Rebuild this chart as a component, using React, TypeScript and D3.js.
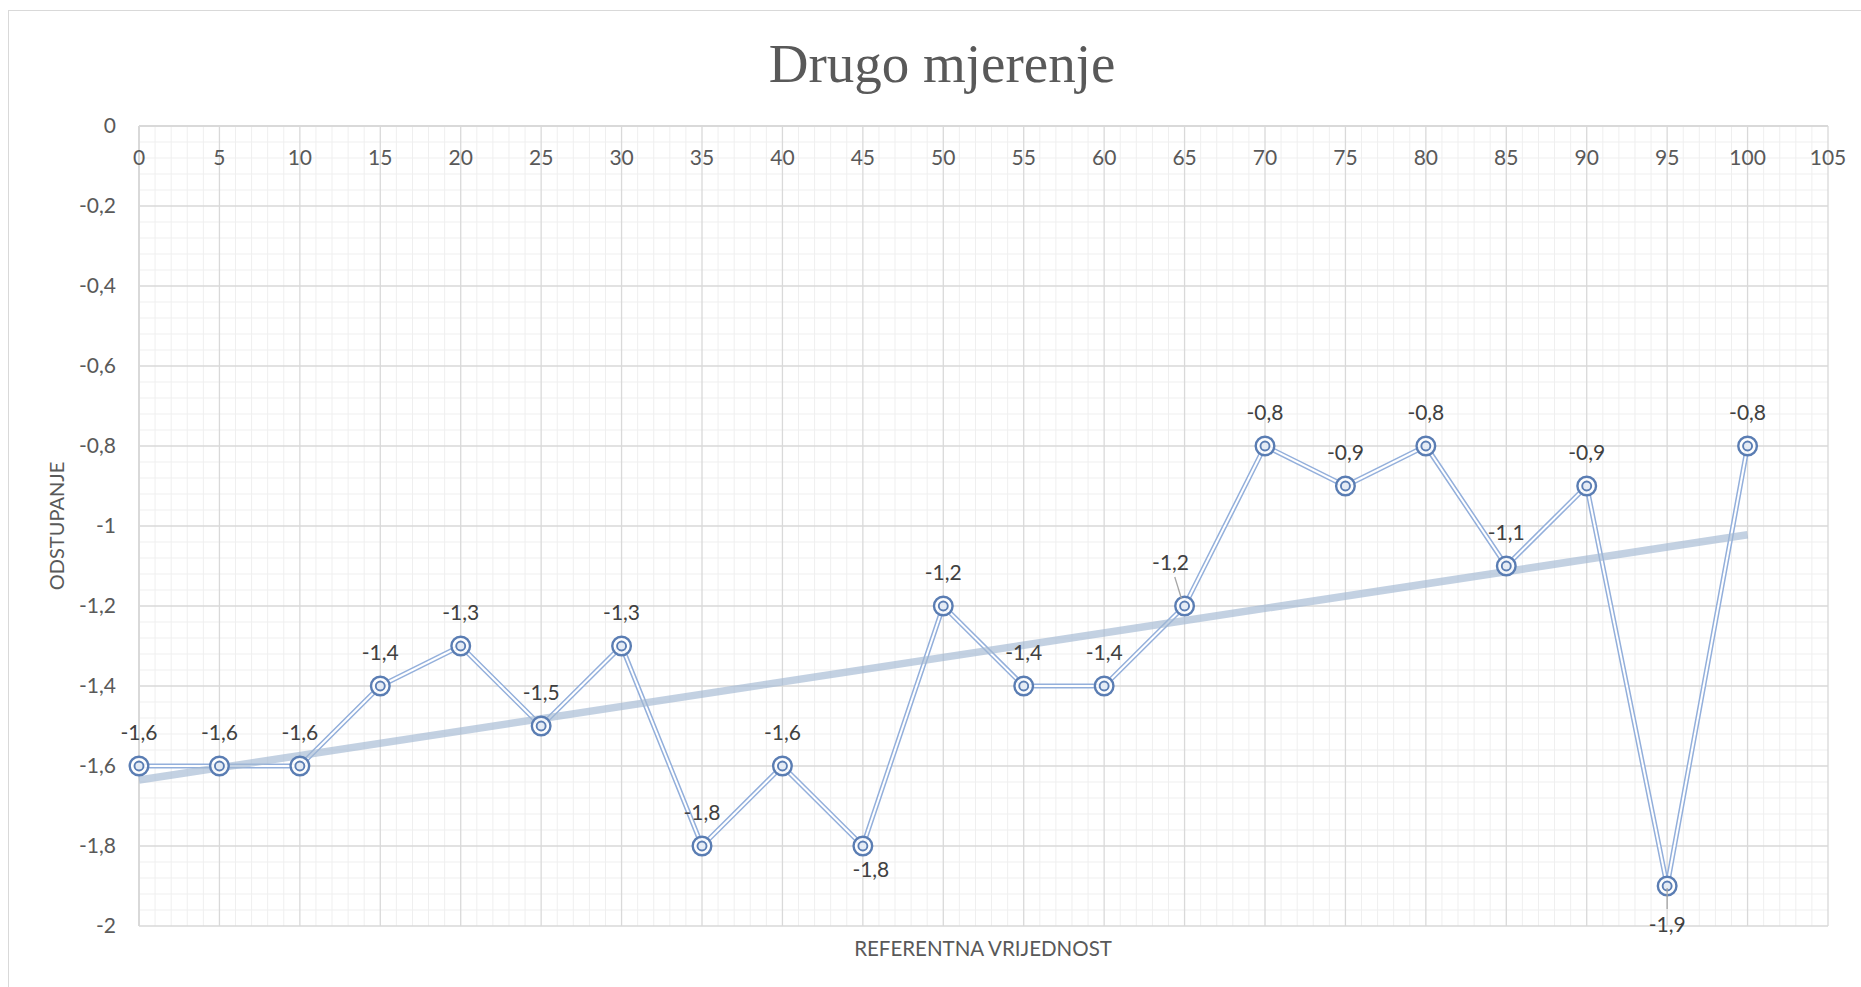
import React, { useRef, useEffect } from "react";
import * as d3 from "d3";

// referentna vrijednost (x) i odstupanje (y)
const reference = [0, 5, 10, 15, 20, 25, 30, 35, 40, 45, 50, 55, 60, 65, 70, 75, 80, 85, 90, 95, 100];
const deviation = [-1.6, -1.6, -1.6, -1.4, -1.3, -1.5, -1.3, -1.8, -1.6, -1.8, -1.2, -1.4, -1.4, -1.2, -0.8, -0.9, -0.8, -1.1, -0.9, -1.9, -0.8];
const xTicks = d3.range(0, 106, 5);
const yTicks = d3.range(0, -2.001, -0.2);

const TITLE = "Drugo mjerenje";
const X_TITLE = "REFERENTNA VRIJEDNOST";
const Y_TITLE = "ODSTUPANJE";

const fmt = (v: number) => {
  const r = Math.round(v * 10) / 10;
  return String(r === 0 ? 0 : r).replace(".", ",");
};

const App = () => {
  const svgRef = useRef<SVGSVGElement>(null);

  useEffect(() => {
    const width = 1861;
    const height = 987;
    const svg = d3.select(svgRef.current).attr("width", width).attr("height", height);
    svg.selectAll("*").remove();

    const font = "Lato, 'Open Sans', sans-serif";

    const xScale = d3.scaleLinear().domain([0, 105]).range([139, 1828]);
    const yScale = d3.scaleLinear().domain([0, -2]).range([126, 926]);

    // chart border
    svg.append("rect")
      .attr("x", 8.5).attr("y", 10.5)
      .attr("width", 1900).attr("height", 1000)
      .attr("fill", "#fff").attr("stroke", "#d9d9d9").attr("stroke-width", 1);

    // title
    svg.append("text")
      .attr("x", 942).attr("y", 82)
      .attr("text-anchor", "middle")
      .attr("font-family", "'Liberation Serif', 'DejaVu Serif', serif")
      .attr("font-size", 55)
      .attr("fill", "#595959")
      .text(TITLE);

    const g = svg.append("g");

    // minor grid
    g.selectAll(".minor-x")
      .data(d3.range(0, 106, 1).filter((v) => v % 5 !== 0))
      .enter().append("line")
      .attr("x1", (d) => xScale(d)).attr("x2", (d) => xScale(d))
      .attr("y1", yScale(0)).attr("y2", yScale(-2))
      .attr("stroke", "#efefef").attr("stroke-width", 1);

    g.selectAll(".minor-y")
      .data(d3.range(0, 51).filter((i) => i % 5 !== 0).map((i) => -i * 0.04))
      .enter().append("line")
      .attr("x1", xScale(0)).attr("x2", xScale(105))
      .attr("y1", (d) => yScale(d)).attr("y2", (d) => yScale(d))
      .attr("stroke", "#efefef").attr("stroke-width", 1);

    // major grid
    g.selectAll(".major-x")
      .data(xTicks)
      .enter().append("line")
      .attr("x1", (d) => xScale(d)).attr("x2", (d) => xScale(d))
      .attr("y1", yScale(0)).attr("y2", yScale(-2))
      .attr("stroke", "#d9d9d9").attr("stroke-width", 1.3);

    g.selectAll(".major-y")
      .data(yTicks)
      .enter().append("line")
      .attr("x1", xScale(0)).attr("x2", xScale(105))
      .attr("y1", (d) => yScale(d)).attr("y2", (d) => yScale(d))
      .attr("stroke", "#d9d9d9").attr("stroke-width", 1.3);

    // axis lines
    g.append("line")
      .attr("x1", xScale(0)).attr("x2", xScale(105))
      .attr("y1", yScale(0)).attr("y2", yScale(0))
      .attr("stroke", "#d9d9d9").attr("stroke-width", 2);
    g.append("line")
      .attr("x1", xScale(0)).attr("x2", xScale(0))
      .attr("y1", yScale(0)).attr("y2", yScale(-2))
      .attr("stroke", "#d9d9d9").attr("stroke-width", 2);

    // tick labels
    g.selectAll(".ytick")
      .data(yTicks)
      .enter().append("text")
      .attr("x", 116).attr("y", (d) => yScale(d))
      .attr("dy", "0.35em")
      .attr("text-anchor", "end")
      .attr("font-family", font).attr("font-size", 21)
      .attr("fill", "#595959")
      .text((d) => fmt(d));

    g.selectAll(".xtick")
      .data(xTicks)
      .enter().append("text")
      .attr("x", (d) => xScale(d)).attr("y", 158)
      .attr("dy", "0.35em")
      .attr("text-anchor", "middle")
      .attr("font-family", font).attr("font-size", 21)
      .attr("fill", "#595959")
      .text((d) => fmt(d));

    // axis titles
    svg.append("text")
      .attr("x", 983).attr("y", 956)
      .attr("text-anchor", "middle")
      .attr("font-family", font).attr("font-size", 20.5)
      .attr("fill", "#595959")
      .text(X_TITLE);

    svg.append("text")
      .attr("transform", `translate(64,526) rotate(-90)`)
      .attr("text-anchor", "middle")
      .attr("font-family", font).attr("font-size", 20)
      .attr("fill", "#595959")
      .text(Y_TITLE);

    const points = reference.map((x, i) => ({ x, y: deviation[i] }));
    const line = d3.line<{ x: number; y: number }>()
      .x((d) => xScale(d.x))
      .y((d) => yScale(d.y));

    // double series line
    g.append("path")
      .datum(points)
      .attr("d", line)
      .attr("fill", "none")
      .attr("stroke", "#93afdb").attr("stroke-width", 5)
      .attr("stroke-linejoin", "round");
    g.append("path")
      .datum(points)
      .attr("d", line)
      .attr("fill", "none")
      .attr("stroke", "#ffffff").attr("stroke-width", 2)
      .attr("stroke-linejoin", "round");

    // linear trendline
    const mx = d3.mean(points, (d) => d.x) as number;
    const my = d3.mean(points, (d) => d.y) as number;
    const slope =
      (d3.sum(points, (d) => (d.x - mx) * (d.y - my)) as number) /
      (d3.sum(points, (d) => (d.x - mx) ** 2) as number);
    const intercept = my - slope * mx;
    const x0 = d3.min(reference) as number;
    const x1 = d3.max(reference) as number;
    g.append("line")
      .attr("x1", xScale(x0)).attr("y1", yScale(intercept + slope * x0))
      .attr("x2", xScale(x1)).attr("y2", yScale(intercept + slope * x1))
      .attr("stroke", "#a3b8d3").attr("stroke-opacity", 0.65)
      .attr("stroke-width", 7.5);

    // markers
    const marker = g.selectAll(".marker")
      .data(points)
      .enter().append("g")
      .attr("transform", (d) => `translate(${xScale(d.x)},${yScale(d.y)})`);
    marker.append("circle")
      .attr("r", 9.3)
      .attr("fill", "#ffffff").attr("fill-opacity", 0.85)
      .attr("stroke", "#5a7db3").attr("stroke-width", 2.4);
    marker.append("circle")
      .attr("r", 4.5)
      .attr("fill", "#e4ebf5")
      .attr("stroke", "#5a7db3").attr("stroke-width", 1.9);

    // data label placement: default above, some below or shifted with leader line
    const labelOffset: Record<number, [number, number, boolean]> = {
      45: [8, 24, false],
      65: [-14, -43, true],
      95: [0, 39, true],
    };

    points.forEach((d) => {
      const px = xScale(d.x);
      const py = yScale(d.y);
      const [dx, dy, leader] = labelOffset[d.x] || [0, -33, false];
      if (leader) {
        const up = dy < 0;
        g.append("line")
          .attr("x1", px + dx * 0.7).attr("y1", up ? py + dy + 14 : py + 2)
          .attr("x2", up ? px - 3 : px).attr("y2", up ? py - 7 : py + dy - 16)
          .attr("stroke", "#a6a6a6").attr("stroke-width", 1.3);
      }
      g.append("text")
        .attr("x", px + dx).attr("y", py + dy)
        .attr("dy", "0.35em")
        .attr("text-anchor", "middle")
        .attr("font-family", font).attr("font-size", 21)
        .attr("fill", "#404040")
        .text(fmt(d.y));
    });
  }, []);

  return (
    <svg
      ref={svgRef}
      style={{ position: "absolute", left: 0, top: 0, display: "block" }}
    ></svg>
  );
};

export default App;
